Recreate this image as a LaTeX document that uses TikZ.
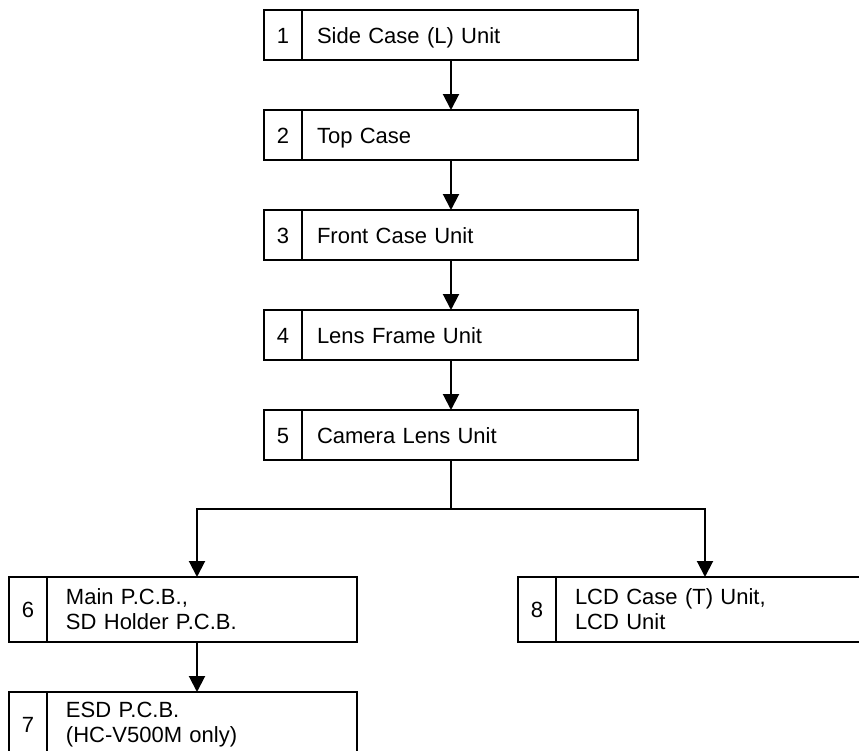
\documentclass[tikz,border=0pt]{standalone}
\usepackage{fontspec}
\setmainfont{Liberation Sans}
\usetikzlibrary{arrows.meta,positioning,calc}

\begin{document}
\begin{tikzpicture}[x=0.5pt,y=-0.5pt,font=\fontsize{11}{12.5}\selectfont,
  num/.style={draw,line width=1.2pt,outer sep=0pt,minimum width=19pt,minimum height=25pt,inner sep=0pt,text height=8pt,text depth=0pt,anchor=north west},
  lbl/.style={draw,line width=1.2pt,outer sep=0pt,minimum height=25pt,text width=153pt,inner xsep=7.5pt,inner ysep=0pt,align=left},
  one/.style={text height=8pt,text depth=0pt},
  tall/.style={minimum height=32.5pt},
  narrow/.style={text width=136pt,inner xsep=9.5pt},
  flow/.style={line width=1pt,-{Triangle[length=8pt,width=8pt]}}]
\useasboundingbox (0,0) rectangle (859,751);
\clip (0,0) rectangle (859,751);
% main column
\foreach \i/\t in {1/Side Case (L) Unit,2/Top Case,3/Front Case Unit,4/Lens Frame Unit,5/Camera Lens Unit}{
  \node[num] (n\i) at (264,{10+100*(\i-1)}) {\i};
  \node[lbl,one,right=0pt of n\i] (b\i) {\t};
  \coordinate (m\i) at ($(n\i.south west)!.5!(b\i.south east)$);
}
\foreach \i [evaluate=\i as \j using int(\i+1)] in {1,...,4}
  \draw[flow] (m\i) -- (m\i |- b\j.north);
% branches
\node[num,tall] (n6) at (9,577) {6};
\node[lbl,tall,narrow,right=0pt of n6] (b6) {Main P.C.B.,\\SD Holder P.C.B.};
\node[num,tall] (n7) at (9,692) {7};
\node[lbl,tall,narrow,right=0pt of n7] (b7) {ESD P.C.B.\\(HC-V500M only)};
\node[num,tall] (n8) at (518,577) {8};
\node[lbl,tall,narrow,right=0pt of n8] (b8) {LCD Case (T) Unit,\\LCD Unit};
\coordinate (fork) at ($(m5)+(0,49)$);
\draw[line width=1pt] (m5) -- (fork);
\draw[flow] (fork) -| ([xshift=-2.5pt]b6.north);
\draw[flow] (fork) -| ([xshift=-3pt]b8.north);
\draw[flow] ([xshift=-2.5pt]b6.south) -- ([xshift=-2.5pt]b7.north);
\end{tikzpicture}
\end{document}
